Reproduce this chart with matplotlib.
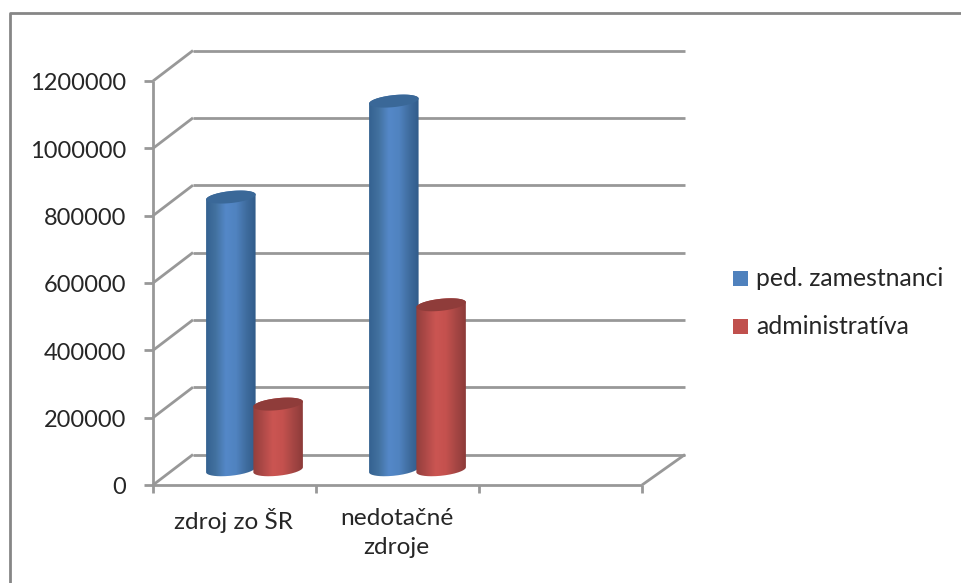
import numpy as np
import matplotlib
matplotlib.use('Agg')
import matplotlib.pyplot as plt
from matplotlib.colors import LinearSegmentedColormap
from matplotlib.lines import Line2D
from matplotlib.patches import PathPatch, Rectangle
from matplotlib.path import Path
from matplotlib.transforms import IdentityTransform

# values
categories = ['zdroj zo ŠR', 'nedotačné\nzdroje']
series_names = ['ped. zamestnanci', 'administratíva']
ped_values = [810000, 1095000]
admin_values = [195000, 490000]
y_ticks = [0, 200000, 400000, 600000, 800000, 1000000, 1200000]

W, H = 962, 583
plt.rcParams['font.family'] = ['Lato', 'DejaVu Sans']
text_col = '#262626'
grid_col = '#989898'

fig = plt.figure(figsize=(W / 100, H / 100), dpi=100)

# axes = front plane of the 3d box
left, right, top, bottom = 153, 642, 81, 485
ax = fig.add_axes([left / W, 1 - bottom / H, (right - left) / W, (bottom - top) / H])
ax.set_xlim(0, 3)
ax.set_ylim(0, 1200000)
ax.axis('off')

depth_x, depth_y = 40, 30.5   # back wall offset, pixels
back_extra = 3                # back wall runs a bit wider on the right


def px(x, y):
    return ax.transData.transform((x, y))


def seg(p, q, **kw):
    ax.add_line(Line2D([p[0], q[0]], [p[1], q[1]], transform=IdentityTransform(),
                       color=grid_col, lw=2, clip_on=False, solid_capstyle='butt', **kw))


# walls and gridlines
for v in y_ticks:
    a = px(0, v)
    b = a + (depth_x, depth_y)
    c = px(3, v) + (depth_x + back_extra, depth_y)
    seg(a, b)
    seg(b, c)
    seg(a - (9, 0), a)
    ax.text(a[0] - 27, a[1] - 3, str(v), transform=IdentityTransform(), ha='right', va='center',
            fontsize=17, color=text_col)

seg(px(0, 0), px(0, 1200000))
seg(px(0, 0), px(3, 0))
f = px(3, 0)
seg(f, f + (depth_x + back_extra, depth_y))
for i in range(4):
    p = px(i, 0)
    seg(p, p - (0, 8))

for i, name in enumerate(categories):
    p = px(i + 0.5, 0)
    ax.text(p[0] - 1, p[1] - 23, name, transform=IdentityTransform(), ha='center', va='top',
            fontsize=17.6, color=text_col, linespacing=1.5)

# cylinders
blue_cmap = LinearSegmentedColormap.from_list('b', ['#33608f', '#42719f', '#5488c8', '#5083c0', '#3f6c9e', '#2f5a88'])
red_cmap = LinearSegmentedColormap.from_list('r', ['#8f3e3c', '#ad4947', '#cb5552', '#c4514e', '#a54644', '#8a3a38'])
cap_cols = ['#3a6898', '#8f3c3a']
bar_w = 0.304
bar_off = 0.145


def ring(cx, cy, a, b=6.0, k=2.5, t0=0, t1=2 * np.pi, n=80):
    t = np.linspace(t0, t1, n)
    return np.column_stack([cx + a * np.cos(t), cy + b * np.sin(t) + k * np.cos(t)])


def cylinder(x_mid, val, cmap, cap):
    x0 = px(x_mid - bar_w / 2, 0)[0] + depth_x / 2
    x1 = px(x_mid + bar_w / 2, 0)[0] + depth_x / 2
    cx = (x0 + x1) / 2
    a = (x1 - x0) / 2
    y0 = px(0, 0)[1] + depth_y / 2
    y1 = px(0, val)[1] + depth_y / 2
    low = ring(cx, y0, a, t0=np.pi, t1=2 * np.pi)
    high = ring(cx, y1, a, t0=0, t1=np.pi)
    body = np.vstack([low, high, low[:1]])
    outline = PathPatch(Path(body), transform=IdentityTransform(), fc='none', ec='none', clip_on=False)
    ax.add_patch(outline)
    grad = np.linspace(0, 1, 128)[None, :]
    im = ax.imshow(grad, cmap=cmap, aspect='auto', transform=IdentityTransform(),
                   extent=(x0 - 1, x1 + 1, y0 - 12, y1 + 12), interpolation='bilinear', zorder=3)
    im.set_clip_path(outline)
    ax.add_patch(PathPatch(Path(ring(cx, y1, a)), transform=IdentityTransform(), fc=cap, ec='none',
                           clip_on=False, zorder=3))
    ax.set_xlim(0, 3)
    ax.set_ylim(0, 1200000)


for i in range(len(categories)):
    cylinder(i + 0.5 - bar_off, ped_values[i], blue_cmap, cap_cols[0])
    cylinder(i + 0.5 + bar_off, admin_values[i], red_cmap, cap_cols[1])

# legend
leg_y = [278, 326]
leg_cols = ['#4f81bd', '#c0504d']
for name, yy, col in zip(series_names, leg_y, leg_cols):
    fig.add_artist(Rectangle((733 / W, 1 - (yy + 7.5) / H), 15 / W, 15 / H, transform=fig.transFigure, fc=col, ec='none'))
    fig.text(756 / W, 1 - (yy + 1) / H, name, ha='left', va='center', fontsize=17.8, color=text_col)

# chart frame, cropped at the right and bottom
fig.add_artist(Line2D([10 / W, 10 / W, 1], [0, 1 - 13 / H, 1 - 13 / H], transform=fig.transFigure,
                      color='#868686', lw=2))

fig.savefig('out.png', dpi=100)
